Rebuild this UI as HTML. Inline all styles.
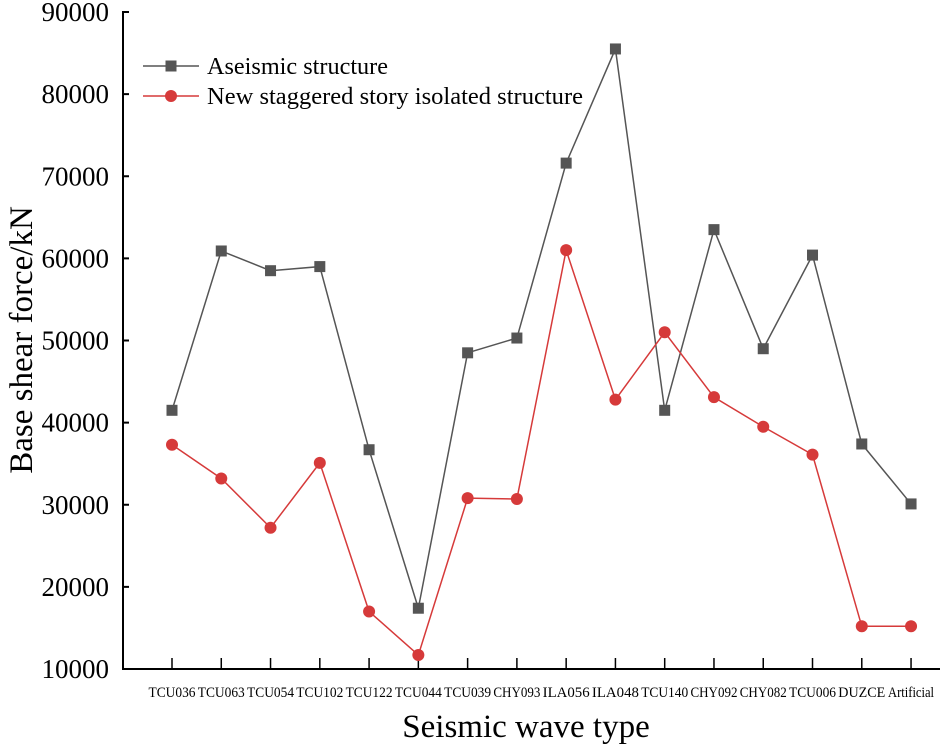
<!DOCTYPE html>
<html><head><meta charset="utf-8"><style>body{margin:0;background:#fff}svg{display:block;font-family:"Liberation Serif",serif}</style></head>
<body>
<svg id="c" width="940" height="748"></svg>
<script>
const categories=["TCU036","TCU063","TCU054","TCU102","TCU122","TCU044","TCU039","CHY093","ILA056","ILA048","TCU140","CHY092","CHY082","TCU006","DUZCE","Artificial"];
const aseismic=[41500,60900,58500,59000,36700,17400,48500,50300,71600,85500,41500,63500,49000,60400,37400,30100];
const isolated=[37300,33200,27200,35100,17000,11700,30800,30700,61000,42800,51000,43100,39500,36100,15200,15200];
const yTicks=[10000,20000,30000,40000,50000,60000,70000,80000,90000];
const NS="http://www.w3.org/2000/svg";
const svg=document.getElementById('c');
const x0=123,y0=669,yTop=12;
function yS(v){return y0-(v-10000)/80000*(y0-yTop);}
function xS(i){return 172+i*49.27;}
function mk(t,a,p){const e=document.createElementNS(NS,t);for(const k in a)e.setAttribute(k,a[k]);(p||svg).appendChild(e);return e;}
let e;
e=mk('line',{x1:x0,y1:yTop-1,x2:x0,y2:y0,stroke:'#000','stroke-width':2});


e=mk('line',{x1:x0-1,y1:y0,x2:940,y2:y0,stroke:'#000','stroke-width':2});


yTicks.forEach(v=>{const y=yS(v);
mk('line',{x1:x0,y1:y,x2:x0+6,y2:y,stroke:'#000','stroke-width':2});
e=mk('text',{x:109,y:y+9,'text-anchor':'end','font-size':27});e.textContent=v;

});
categories.forEach((c,i)=>{const x=xS(i);
mk('line',{x1:x0===x?x:x,y1:y0,x2:x,y2:y0-11,stroke:'#000','stroke-width':1.5});
e=mk('text',{x:x,y:697,'text-anchor':'middle','font-size':15,textLength:c==='Artificial'?46:47,lengthAdjust:'spacingAndGlyphs'});e.textContent=c;

});
function series(vals,col,sq,name){
e=mk('polyline',{points:vals.map((v,i)=>xS(i)+','+yS(v)).join(' '),fill:'none',stroke:col,'stroke-width':1.5});


vals.forEach((v,i)=>{const x=xS(i),y=yS(v);
if(sq)e=mk('rect',{x:x-5.5,y:y-5.5,width:11,height:11,fill:col});else e=mk('circle',{cx:x,cy:y,r:6,fill:col});

});}
series(aseismic,'#555','sq','aseismic');
series(isolated,'#d63a3a',0,'isolated');
[[66,'#555',1,'Aseismic structure',181],[96,'#d63a3a',0,'New staggered story isolated structure',376]].forEach(l=>{
const g=mk('g',{});


mk('line',{x1:143,y1:l[0],x2:199,y2:l[0],stroke:l[1],'stroke-width':1.5},g);
if(l[2])mk('rect',{x:165.5,y:l[0]-5.5,width:11,height:11,fill:l[1]},g);else mk('circle',{cx:171,cy:l[0],r:6,fill:l[1]},g);
const t=mk('text',{x:207,y:l[0]+8,'font-size':24,textLength:l[4],lengthAdjust:'spacingAndGlyphs'},g);t.textContent=l[3];});
e=mk('text',{x:0,y:0,'font-size':33,'text-anchor':'middle',transform:'translate(32,340) rotate(-90)'});e.textContent='Base shear force/kN';


e=mk('text',{x:526,y:737,'font-size':33,'text-anchor':'middle'});e.textContent='Seismic wave type';


</script>
</body></html>
